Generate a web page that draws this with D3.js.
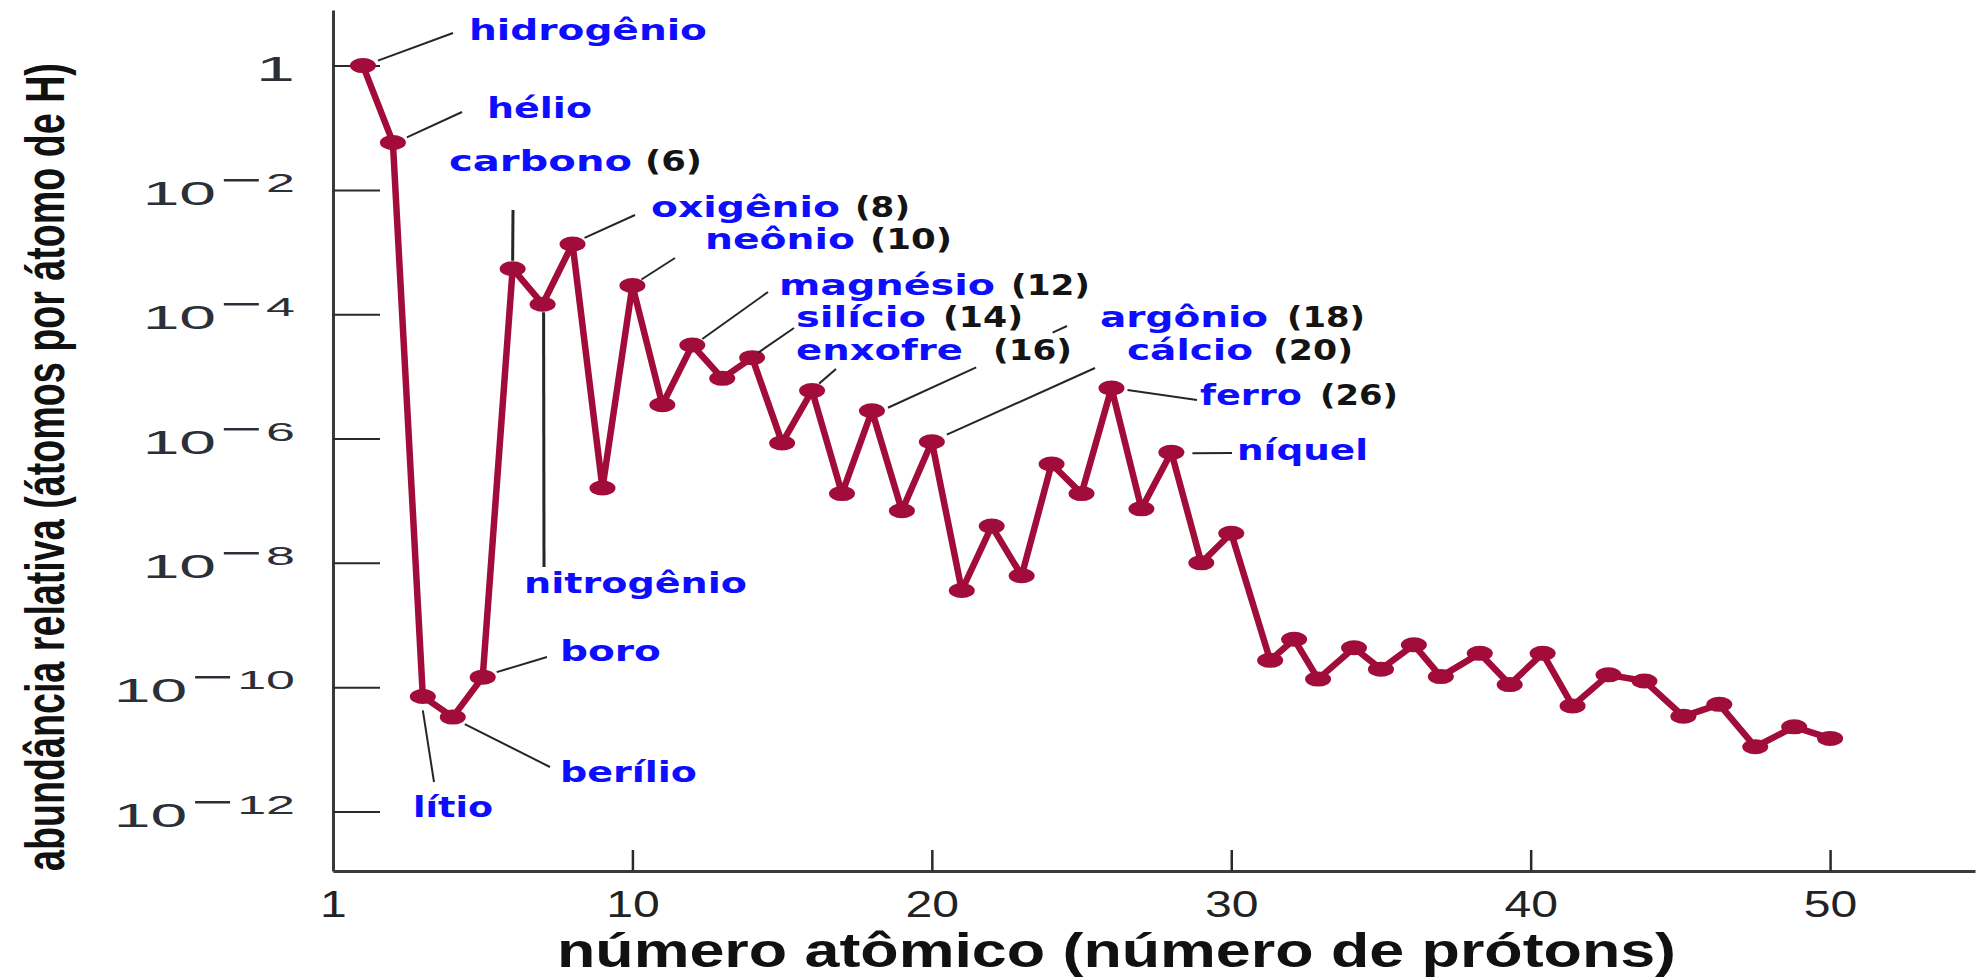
<!DOCTYPE html>
<html lang="pt">
<head>
<meta charset="utf-8">
<script src="https://cdn.jsdelivr.net/npm/d3@7"></script>
<style>
  html, body { margin: 0; padding: 0; background: #ffffff; }
  svg { display: block; }
</style>
</head>
<body>
<svg id="chart" width="1979" height="978"></svg>
<script>
// Posição de cada elemento ao longo do eixo do número atômico
const atomicNumber = [
  1, 2, 3, 4, 5, 6, 7, 8, 9, 10,
  11, 12, 13, 14, 15, 16, 17, 18, 19, 20,
  21, 22, 23, 24, 25, 26, 27, 28, 29, 30,
  31.3, 32.1, 32.9, 34.1, 35.0, 36.1, 37.0, 38.3, 39.3, 40.4,
  41.4, 42.6, 43.8, 45.1, 46.3, 47.5, 48.8, 50.0
];

// Abundância relativa (átomos por átomo de H)
const abundance = [
  1, 5.8e-2, 7.1e-11, 3.3e-11, 1.45e-10, 5.4e-4, 1.45e-4, 1.35e-3, 1.6e-7, 2.9e-4,
  3.5e-6, 3.2e-5, 9.3e-6, 2.0e-5, 8.5e-7, 5.9e-6, 1.3e-7, 2.8e-6, 6.9e-8, 8.9e-7,
  3.6e-9, 3.9e-8, 6.2e-9, 3.9e-7, 1.3e-7, 6.5e-6, 7.4e-8, 6.0e-7, 1.0e-8, 3.0e-8,
  2.7e-10, 5.9e-10, 1.35e-10, 4.3e-10, 1.95e-10, 4.8e-10, 1.48e-10, 3.5e-10, 1.1e-10, 3.5e-10,
  5.0e-11, 1.58e-10, 1.26e-10, 3.4e-11, 5.3e-11, 1.1e-11, 2.3e-11, 1.5e-11
];

// Rótulos dos eixos
const xTickValues = [0, 10, 20, 30, 40, 50];
const xTickLabels = ["1", "10", "20", "30", "40", "50"];
const yTickExponents = [0, -2, -4, -6, -8, -10, -12];

// Nomes dos elementos destacados e o número atômico entre parênteses
const labelNames = ["hidrogênio", "hélio", "lítio", "berílio", "boro", "carbono", "nitrogênio",
  "oxigênio", "neônio", "magnésio", "silício", "enxofre", "argônio", "cálcio", "ferro", "níquel"];
const labelNumbers = ["", "", "", "", "", "(6)", "", "(8)", "(10)", "(12)", "(14)", "(16)",
  "(18)", "(20)", "(26)", ""];

const xTitle = "número atômico (número de prótons)";
const yTitle = "abundância relativa (átomos por átomo de H)";

const svg = d3.select("#chart");
const W = 1979, H = 978;
svg.append("rect").attr("width", W).attr("height", H).attr("fill", "#ffffff");

const x = d3.scaleLinear().domain([0, 54.84]).range([333, 1975]);
const y = d3.scaleLog().domain([Math.pow(10, 0.894), Math.pow(10, -12.957)]).range([10, 871]);

const axisColor = "#3a3a3a";

// Eixo X
const xAxis = d3.axisBottom(x)
  .tickValues(xTickValues)
  .tickFormat((d, i) => xTickLabels[i])
  .tickSizeInner(-21)
  .tickSizeOuter(0)
  .tickPadding(20);

const gx = svg.append("g").attr("transform", "translate(0,871)").call(xAxis);
gx.select(".domain").attr("stroke", axisColor).attr("stroke-width", 3);
gx.selectAll(".tick line").attr("stroke", "#2a2a2a").attr("stroke-width", 2.5);
gx.selectAll(".tick text")
  .attr("font-family", "'Liberation Sans', Arial, sans-serif")
  .attr("font-size", 37)
  .attr("transform", "scale(1.3,1)")
  .attr("fill", "#222222");

// Eixo Y (escala logarítmica, rótulos em potências de dez)
const yAxis = d3.axisLeft(y)
  .tickValues(yTickExponents.map(e => Math.pow(10, e)))
  .tickSizeInner(-47)
  .tickSizeOuter(0)
  .tickPadding(38);

const gy = svg.append("g").attr("transform", "translate(333,0)").call(yAxis);
gy.select(".domain").attr("stroke", axisColor).attr("stroke-width", 3);
gy.selectAll(".tick line").attr("stroke", "#2a2a2a").attr("stroke-width", 2);

const sx = 2.0;
gy.selectAll(".tick text").each(function(d, i) {
  const e = yTickExponents[i];
  const t = d3.select(this);
  t.text(null)
    .attr("dy", null)
    .attr("y", 14.5)
    .attr("x", -38 / sx)
    .attr("transform", `scale(${sx},1)`)
    .attr("text-anchor", "end")
    .attr("font-family", "'Liberation Sans', Arial, sans-serif")
    .attr("fill", "#2b2f38");
  if (e === 0) {
    t.append("tspan").attr("font-size", 35).text("1");
  } else {
    t.append("tspan").attr("font-size", 33).text("10");
    t.append("tspan").attr("font-size", 36).attr("dx", 2).attr("dy", -13).text("\u2212");
    t.append("tspan").attr("font-size", 26).attr("dx", 2).text(String(-e));
  }
});

// Série: linha e marcadores
const points = atomicNumber.map((z, i) => ({ z, v: abundance[i] }));
const lineColor = "#a10c3b";

svg.append("path")
  .datum(points)
  .attr("fill", "none")
  .attr("stroke", lineColor)
  .attr("stroke-width", 6.5)
  .attr("stroke-linejoin", "round")
  .attr("d", d3.line().x(d => x(d.z)).y(d => y(d.v)));

svg.append("g").selectAll("ellipse")
  .data(points)
  .join("ellipse")
  .attr("cx", d => x(d.z))
  .attr("cy", d => y(d.v))
  .attr("rx", 13)
  .attr("ry", 7.5)
  .attr("fill", lineColor);

// Linhas de chamada: início deslocado do ponto, fim junto ao rótulo
const leaders = [
  { i: 0,  dx: 15, dy: -5,  x1: 453, y1: 33 },
  { i: 1,  dx: 14, dy: -5,  x1: 462, y1: 112 },
  { i: 2,  dx: 0,  dy: 14,  x1: 434, y1: 782 },
  { i: 3,  dx: 12, dy: 7,   x1: 550, y1: 767 },
  { i: 4,  dx: 14, dy: -5,  x1: 547, y1: 657 },
  { i: 5,  dx: 0,  dy: -8,  x1: 513, y1: 210 },
  { i: 6,  dx: 1,  dy: 8,   x1: 544, y1: 567 },
  { i: 7,  dx: 12, dy: -6,  x1: 635, y1: 215 },
  { i: 9,  dx: 9,  dy: -6,  x1: 675, y1: 258 },
  { i: 11, dx: 10, dy: -6,  x1: 768, y1: 292 },
  { i: 13, dx: 6,  dy: -5,  x1: 794, y1: 328 },
  { i: 15, dx: 7,  dy: -7,  x1: 836, y1: 369 },
  { i: 17, dx: 16, dy: -3,  x1: 1067, y1: 326, dash: "97 84 18 400" },
  { i: 19, dx: 15, dy: -7,  x1: 1095, y1: 368 },
  { i: 25, dx: 16, dy: 2,   x1: 1197, y1: 400 },
  { i: 27, dx: 21, dy: 1,   x1: 1232, y1: 453 }
];

svg.append("g").selectAll("line")
  .data(leaders)
  .join("line")
  .attr("x1", d => x(points[d.i].z) + d.dx)
  .attr("y1", d => y(points[d.i].v) + d.dy)
  .attr("x2", d => d.x1)
  .attr("y2", d => d.y1)
  .attr("stroke", "#262626")
  .attr("stroke-width", d => (d.i === 5 || d.i === 6) ? 3 : 2)
  .attr("stroke-dasharray", d => d.dash || null);

// Posição dos rótulos (esquerda do nome, largura do nome, esquerda/largura do número, linha de base)
const labelLayout = [
  { x: 469, w: 238, base: 40 },
  { x: 487, w: 105, base: 118 },
  { x: 413, w: 80,  base: 817 },
  { x: 560, w: 137, base: 782 },
  { x: 560, w: 101, base: 661 },
  { x: 449, w: 183, nx: 645, nw: 57, base: 171 },
  { x: 524, w: 223, base: 593 },
  { x: 651, w: 189, nx: 855, nw: 55, base: 217 },
  { x: 705, w: 150, nx: 870, nw: 82, base: 249 },
  { x: 779, w: 216, nx: 1011, nw: 79, base: 295 },
  { x: 796, w: 130, nx: 943, nw: 80, base: 327 },
  { x: 796, w: 167, nx: 993, nw: 79, base: 360 },
  { x: 1100, w: 168, nx: 1287, nw: 78, base: 327 },
  { x: 1127, w: 126, nx: 1273, nw: 80, base: 360 },
  { x: 1200, w: 102, nx: 1320, nw: 78, base: 405 },
  { x: 1237, w: 131, base: 460 }
];

const labelFont = "'DejaVu Sans', Verdana, sans-serif";
const lg = svg.append("g");
labelNames.forEach((name, k) => {
  const L = labelLayout[k];
  lg.append("text")
    .attr("x", L.x).attr("y", L.base)
    .attr("font-family", labelFont).attr("font-weight", "bold").attr("font-size", 29)
    .attr("fill", "#0d0dff")
    .attr("textLength", L.w).attr("lengthAdjust", "spacingAndGlyphs")
    .text(name);
  if (labelNumbers[k]) {
    lg.append("text")
      .attr("x", L.nx).attr("y", L.base)
      .attr("font-family", labelFont).attr("font-weight", "bold").attr("font-size", 29)
      .attr("fill", "#141414")
      .attr("textLength", L.nw).attr("lengthAdjust", "spacingAndGlyphs")
      .text(labelNumbers[k]);
  }
});

// Títulos dos eixos
svg.append("text")
  .attr("x", 557).attr("y", 967)
  .attr("font-family", "'Liberation Sans', Arial, sans-serif")
  .attr("font-weight", "bold").attr("font-size", 48)
  .attr("fill", "#111111")
  .attr("textLength", 1119).attr("lengthAdjust", "spacingAndGlyphs")
  .text(xTitle);

// Título vertical, comprimido ao longo da leitura para ocupar 808 px
const yTitleLen = 808;
const yt = svg.append("text")
  .attr("x", 0).attr("y", 0)
  .attr("font-family", "'Liberation Sans Narrow', 'Liberation Sans', Arial, sans-serif")
  .attr("font-weight", "bold").attr("font-size", 56)
  .attr("fill", "#111111")
  .text(yTitle);
const natural = yt.node().getComputedTextLength() || yTitleLen;
yt.attr("transform", `translate(64,871) rotate(-90) scale(${yTitleLen / natural},1)`);
</script>
</body>
</html>
